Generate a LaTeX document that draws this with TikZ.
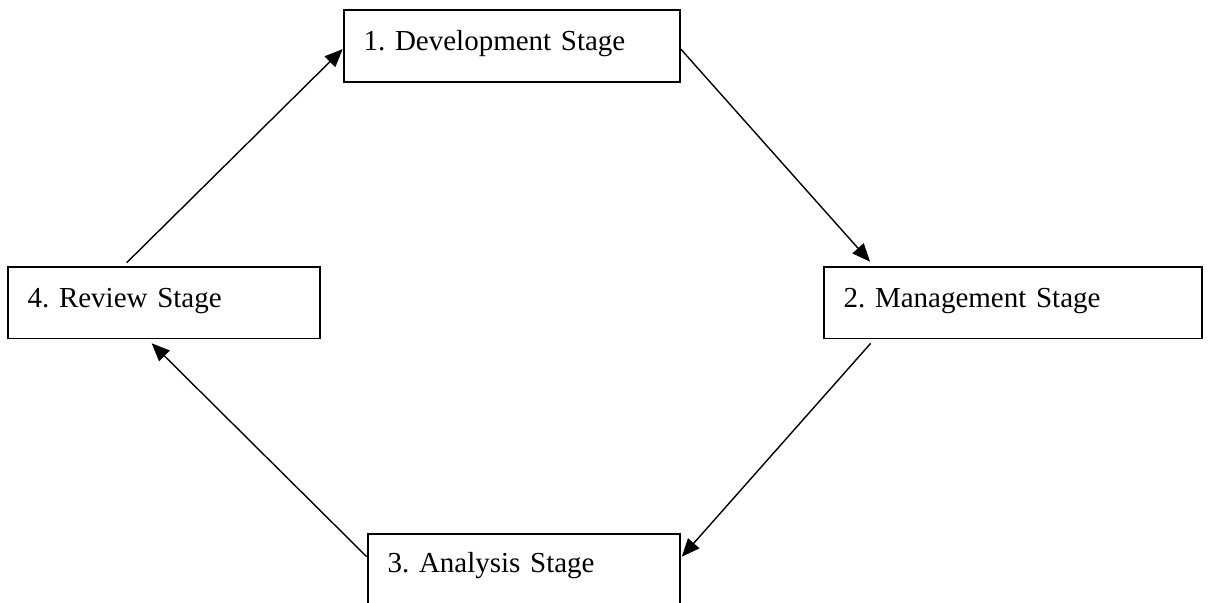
\documentclass[tikz,border=0pt]{standalone}
\usepackage{fontspec}
\setmainfont{Liberation Serif}
\usetikzlibrary{arrows.meta,calc}
\frenchspacing
\begin{document}
\begin{tikzpicture}[x=1pt,y=-1pt,
  stagebox/.style={draw,line width=1.8pt,anchor=north west,align=left,
    inner xsep=20pt,inner ysep=10pt,text height=30.8pt,text depth=21pt,
    font=\fontsize{29}{34}\selectfont},
  flow/.style={line width=1.4pt,-{Triangle[length=18pt,width=15pt]}}]
\useasboundingbox (0,0) rectangle (1209,602);
% the four stages of the cycle
\node[stagebox,text width=296.3pt] (b1) at (342.7,9.3) {1. Development Stage};
\node[stagebox,text width=338.3pt] (b2) at (822.7,265.7) {2. Management Stage};
\node[stagebox,text width=272.3pt,text height=28.7pt,text depth=30pt] (b3) at (366.7,533) {3. Analysis Stage};
\node[stagebox,text width=272.3pt] (b4) at (6.7,265.7) {4. Review Stage};
% connectors running round the cycle
\draw[flow] ($(b1.east)+(0,3)$) -- ($(b2.north west)+(47.3,-4)$);
\draw[flow] ($(b2.south west)+(48,4)$) -- ($(b3.north east)+(1,23.7)$);
\draw[flow] ($(b3.north west)+(0,23.7)$) -- ($(b4.south west)+(145,4)$);
\draw[flow] ($(b4.north west)+(120,-3)$) -- ($(b1.west)+(0,3)$);
\end{tikzpicture}
\end{document}
